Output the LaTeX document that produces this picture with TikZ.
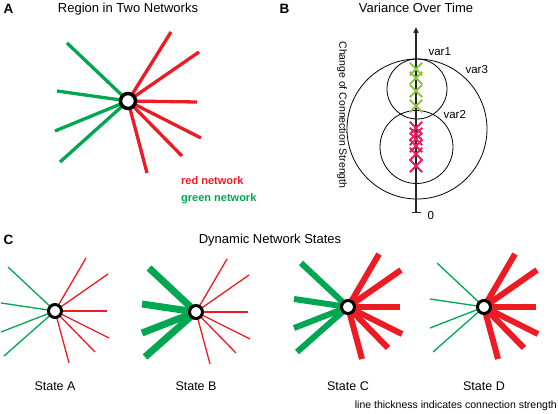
\documentclass[tikz,border=0pt]{standalone}
\usepackage{fontspec}
\setmainfont{Liberation Sans}
\usetikzlibrary{arrows.meta,shapes.misc,backgrounds}
\definecolor{netred}{HTML}{ED1C24}
\definecolor{netgreen}{HTML}{00A651}
\definecolor{xgreen}{HTML}{8DC63F}
\definecolor{xred}{HTML}{EC1C5C}
\tikzset{
  hub/.style={circle, draw=black, fill=white, line width=3pt, minimum size=13pt, inner sep=0pt},
  bighub/.style={hub, line width=3.5pt, minimum size=15pt},
  ring/.style={circle, draw=black, line width=0.8pt, inner sep=0pt},
  xg/.style={cross out, draw=xgreen, line width=1.8pt, minimum size=10.5pt, inner sep=0pt},
  xr/.style={cross out, draw=xred, line width=1.8pt, minimum size=10.5pt, inner sep=0pt},
  panel/.style={font=\fontsize{13.5}{15}\selectfont\bfseries, anchor=base west},
  ttl/.style={font=\fontsize{13}{15}\selectfont, anchor=base},
  lbl/.style={font=\fontsize{12.5}{15}\selectfont, anchor=base},
  varlbl/.style={font=\fontsize{11.5}{14}\selectfont, anchor=base west},
  key/.style={font=\fontsize{11}{13}\selectfont\bfseries, anchor=base west, inner sep=0pt}
}
\begin{document}
\begin{tikzpicture}[x=1pt,y=-1pt]
\useasboundingbox (0,0) rectangle (558,414);

\node[panel] (pa) at (0,14) {A};
\node[ttl] (ta) at (128,13) {Region in Two Networks};
\node[bighub] (hub) at (128,101) {};
\begin{scope}[on background layer]
\foreach \dx/\dy [count=\i] in {-61/-58,-71/-10,-73/30,-68/61} {
  \coordinate (g\i) at ([shift={(\dx,\dy)}]hub.center);
  \draw[netgreen, line width=3.3pt] (g\i) -- (hub.center);
}
\foreach \dx/\dy [count=\i] in {43/-69,71/-49,69/1,73/37,54/55,19/72} {
  \coordinate (r\i) at ([shift={(\dx,\dy)}]hub.center);
  \draw[netred, line width=3.3pt] (r\i) -- (hub.center);
}
\end{scope}
\node[key, text=netred] (kred) at (181,185) {red network};
\node[key, text=netgreen] (kgreen) at (181,202) {green network};

\node[panel] (pb) at (276,14) {B};
\node[ttl] (tb) at (416,13) {Variance Over Time};
\node[ring, minimum size=140pt] (v3) at (417,129) {};
\node[ring, minimum size=60pt] (v1) at (417,89) {};
\node[ring, minimum size=73pt] (v2) at (416.5,147) {};
\coordinate (ax0) at (416,213);
\coordinate (ax1) at (416,27);
\draw[black!85, line width=1.4pt, {Bar[width=9pt]}-{Triangle[length=6pt,width=5pt]}] (ax0) -- (ax1);
\foreach \y [count=\i] in {69,78,91,106} \node[xg] (xg\i) at (416,\y) {};
\foreach \y [count=\i] in {128,134,139,146,154,166} \node[xr] (xr\i) at (416,\y) {};
\node[varlbl] (l1) at (425,56) {var1};
\node[varlbl] (l3) at (462,74) {var3};
\node[varlbl] (l2) at (440,119) {var2};
\node[varlbl] (l0) at (424,220) {0};
\node[rotate=-90, font=\fontsize{10.5}{13}\selectfont] (ylab) at (342,115) {Change of Connection Strength};

\node[panel] (pc) at (0,245) {C};
\node[ttl] (tc) at (270,244) {Dynamic Network States};
\foreach \st/\px/\py/\gw/\rw in {A/55/311/1.3/1.3, B/196/312/7/1.3, C/348/307/6/6, D/484/307/1.3/6} {
  \node[hub] (h\st) at (\px,\py) {};
  \begin{scope}[on background layer]
  \foreach \dx/\dy [count=\i] in {-47/-44,-54/-8,-54/21,-51/45} {
    \coordinate (h\st g\i) at ([shift={(\dx,\dy)}]h\st.center);
    \draw[netgreen, line width=\gw pt] (h\st g\i) -- (h\st.center);
  }
  \foreach \dx/\dy [count=\i] in {31/-53,53/-37,52/0,54/27,40/41,14/52} {
    \coordinate (h\st r\i) at ([shift={(\dx,\dy)}]h\st.center);
    \draw[netred, line width=\rw pt] (h\st r\i) -- (h\st.center);
  }
  \end{scope}
  \node[lbl] (s\st) at (\px,391) {State \st};
}
\node[font=\fontsize{10.5}{13}\selectfont, anchor=base east, inner sep=0pt] (note) at (557,409) {line thickness indicates connection strength};
\end{tikzpicture}
\end{document}
